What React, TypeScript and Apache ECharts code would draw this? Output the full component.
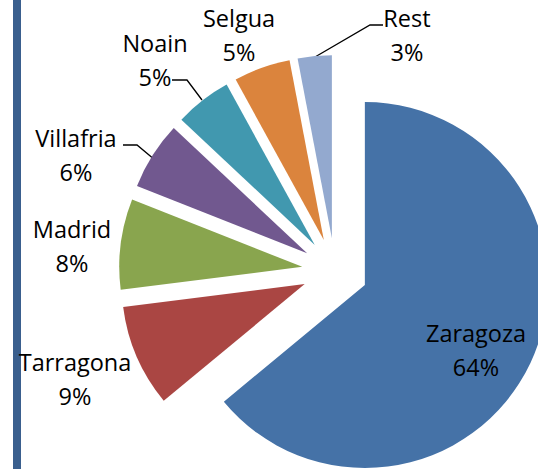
import React, { useEffect, useRef } from 'react';
import * as echarts from 'echarts';

const categories = ['Zaragoza', 'Tarragona', 'Madrid', 'Villafria', 'Noain', 'Selgua', 'Rest'];
const values = [64, 9, 8, 6, 5, 5, 3];
const colors = ['#4572A7', '#AA4643', '#89A54E', '#71588F', '#4198AF', '#DB843D', '#93A9CF'];

// label anchor (centre) positions and optional leader line points
const labelPos: number[][] = [[476, 350], [75, 379], [72, 246], [76, 155], [155, 60], [239, 35], [407, 35]];
const leaderLines: (number[][] | null)[] = [
  null,
  null,
  null,
  [[123, 145], [137, 145], [155, 160]],
  [[172, 80], [187, 80], [202, 100]],
  null,
  [[383, 25], [370, 25], [315, 57]],
];

const PIE_CENTER = [335, 271];
const PIE_RADIUS = 183;
const EXPLODE = 33;

export default function App() {
  const ref = useRef<HTMLDivElement>(null);
  useEffect(() => {
    if (!ref.current) return;
    const chart = echarts.init(ref.current, undefined, { renderer: 'svg' });
    const total = values.reduce((a, b) => a + b, 0);
    let cum = 0;
    const series = categories.map((_, k) => {
      const start = (cum / total) * 2 * Math.PI;
      cum += values[k];
      const end = (cum / total) * 2 * Math.PI;
      const mid = (start + end) / 2;
      const cx = PIE_CENTER[0] + EXPLODE * Math.sin(mid);
      const cy = PIE_CENTER[1] - EXPLODE * Math.cos(mid);
      return {
        type: 'pie',
        center: [cx, cy],
        radius: PIE_RADIUS,
        startAngle: 90,
        clockwise: true,
        silent: true,
        avoidLabelOverlap: false,
        emphasis: { disabled: true },
        itemStyle: { borderWidth: 0 },
        label: {
          formatter: '{b}\n{d}%',
          fontFamily: 'Open Sans',
          fontSize: 23.5,
          lineHeight: 34,
          color: '#000',
          align: 'center',
        },
        labelLine: { lineStyle: { color: '#000', width: 1.3 } },
        labelLayout: (params: any) => {
          const i = params.dataIndex;
          const res: any = {
            x: labelPos[i][0],
            y: labelPos[i][1],
            align: 'center',
            verticalAlign: 'middle',
            hideOverlap: false,
          };
          if (leaderLines[i]) res.labelLinePoints = leaderLines[i];
          return res;
        },
        data: categories.map((name, i) => ({
          name,
          value: values[i],
          itemStyle: { color: i === k ? colors[i] : 'rgba(0,0,0,0)' },
          label: { show: i === k, position: i === 0 ? 'inside' : 'outside' },
          labelLine: { show: i === k && !!leaderLines[i] },
        })),
      };
    });
    chart.setOption({
      animation: false,
      graphic: [
        {
          type: 'rect',
          left: 13,
          top: 0,
          shape: { x: 0, y: 0, width: 8, height: 469 },
          style: { fill: '#3A5F8E' },
        },
      ],
      series,
    });
    return () => chart.dispose();
  }, []);
  return (
    <div
      ref={ref}
      style={{ position: 'fixed', left: 0, top: 0, width: 538, height: 469, background: '#fff' }}
    />
  );
}
